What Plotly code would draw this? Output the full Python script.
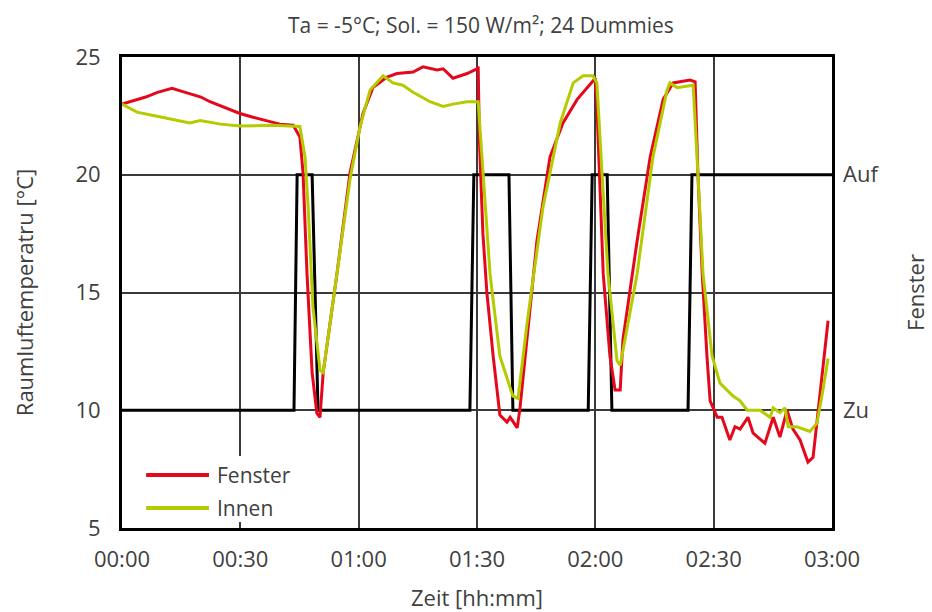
import plotly.graph_objects as go

# ---------------- data ----------------
# time in minutes since 00:00
fenster_t = [0, 3, 6, 9, 12.7, 15, 17.2, 20, 22.3, 26, 29.9, 33, 36.8, 40, 43.4, 45.1, 45.9, 46.9,
             48.2, 49.4, 50.2, 51.0, 54.5, 57.8, 61.1, 63.6, 67.2, 69.7, 73.8, 76.3, 79.9, 81.4,
             83.9, 87.5, 90.0, 90.3, 90.6, 91.5, 92.5, 94.1, 95.8, 97.6, 98.4, 100.2, 100.9, 102.7,
             105.2, 108.5, 111.8, 115.4, 119.4, 120.0, 120.4, 122.0, 123.7, 125.0, 126.3, 127.0,
             130.6, 133.9, 137.2, 139.7, 144.0, 145.3, 146.0, 147.1, 148.3, 149.1, 150.9, 152.1,
             154.1, 155.4, 156.7, 158.7, 160.0, 163.0, 165.1, 166.8, 168.6, 170.1, 171.9, 173.9,
             175.2, 177.5, 179.0]
fenster_T = [23.0, 23.15, 23.3, 23.5, 23.67, 23.55, 23.45, 23.3, 23.1, 22.85, 22.6, 22.45, 22.28,
             22.15, 22.1, 21.6, 20.07, 15.8, 11.6, 9.88, 9.7, 11.6, 15.8, 20.07, 22.6, 23.7, 24.15,
             24.3, 24.36, 24.58, 24.45, 24.5, 24.1, 24.3, 24.5, 24.6, 21.5, 17.5, 15.0, 12.3, 9.8,
             9.5, 9.7, 9.25, 10.1, 13.0, 17.2, 20.75, 22.2, 23.2, 24.0, 24.1, 22.9, 15.8, 12.3,
             10.86, 10.86, 13.0, 17.2, 20.75, 23.2, 23.9, 24.02, 23.95, 20.07, 15.8, 12.3, 10.4,
             9.7, 9.7, 8.74, 9.3, 9.2, 9.7, 9.03, 8.6, 9.7, 8.86, 10.0, 9.2, 8.74, 7.8, 8.0, 11.6,
             13.8]

innen_t = [0, 3.8, 7, 11.4, 17.2, 19.8, 25, 29.9, 38.3, 45.1, 46.4, 47.2, 48.4, 50.2, 51.0, 54.5,
           57.8, 60.3, 62.9, 66.2, 68.7, 71.2, 73.8, 78.1, 81.4, 83.9, 87.5, 90.3, 91.5, 93.3,
           95.8, 99.1, 100.4, 102.7, 106.7, 111.1, 114.4, 116.9, 119.4, 120.4, 121.7, 123.2,
           125.5, 126.3, 130.6, 134.6, 138.2, 138.9, 140.7, 144.8, 146.0, 147.3, 149.6, 151.6,
           154.9, 156.7, 158.5, 161.8, 164.3, 165.1, 166.8, 168.1, 168.9, 171.1, 174.4, 176.2,
           177.7, 179.0]
innen_T = [23.0, 22.66, 22.55, 22.4, 22.2, 22.3, 22.15, 22.07, 22.1, 22.05, 20.75, 18.6, 14.4,
           11.7, 11.6, 15.8, 19.8, 22.0, 23.6, 24.2, 23.9, 23.8, 23.5, 23.1, 22.9, 23.0, 23.1,
           23.1, 20.07, 15.8, 12.3, 10.6, 10.5, 13.7, 18.6, 22.2, 23.9, 24.2, 24.2, 23.9, 20.07,
           15.8, 12.1, 11.9, 15.8, 20.75, 23.6, 23.9, 23.7, 23.8, 20.07, 15.8, 12.3, 11.15, 10.6,
           10.4, 10.0, 10.0, 9.7, 10.1, 9.9, 10.1, 9.3, 9.3, 9.1, 9.45, 10.86, 12.2]

# window state: 0 = Zu (closed), 1 = Auf (open)
window_t = [0, 43.6, 44.4, 48.2, 49.7, 88.2, 89.2, 98.1, 99.1, 118.2, 119.2, 123.0, 124.2,
            143.5, 144.5, 180]
window_state = [0, 0, 1, 1, 0, 0, 1, 1, 0, 0, 1, 1, 0, 0, 1, 1]

x_tickvals = [0, 30, 60, 90, 120, 150, 180]
x_ticktext = ["00:00", "00:30", "01:00", "01:30", "02:00", "02:30", "03:00"]
y_tickvals = [5, 10, 15, 20, 25]
state_tickvals = [0, 1]
state_ticktext = ["Zu", "Auf"]
legend_names = ["Fenster", "Innen"]

# ---------------- style ----------------
RED = "#e5081c"
GREEN = "#b4cb00"
TXT = "#404040"
GRID = "#3a3a3a"
FONT = "Open Sans"

fig = go.Figure()

# window signal (base axis 'y', right side)
fig.add_trace(go.Scatter(x=window_t, y=window_state, mode="lines", yaxis="y",
                         line=dict(color="black", width=3), showlegend=False,
                         name="Fenster (Auf/Zu)"))
# temperatures (overlaying axis 'y2', left side)
fig.add_trace(go.Scatter(x=fenster_t, y=fenster_T, mode="lines", yaxis="y2",
                         line=dict(color=RED, width=3), name=legend_names[0], showlegend=False))
fig.add_trace(go.Scatter(x=innen_t, y=innen_T, mode="lines", yaxis="y2",
                         line=dict(color=GREEN, width=3), name=legend_names[1], showlegend=False))

# manual legend (white box hides the gridline behind it)
shapes = [dict(type="rect", xref="paper", yref="paper", x0=0.0085, x1=0.265, y0=0.013, y1=0.153,
               fillcolor="white", line=dict(width=0), layer="above")]
annotations = []
for i, (name, col) in enumerate(zip(legend_names, [RED, GREEN])):
    yy = [0.1125, 0.0425][i]
    shapes.append(dict(type="line", xref="paper", yref="paper", x0=0.034, x1=0.1225, y0=yy, y1=yy,
                       line=dict(color=col, width=4), layer="above"))
    annotations.append(dict(xref="paper", yref="paper", x=0.131, y=yy, text=name, showarrow=False,
                            xanchor="left", yanchor="middle", font=dict(family=FONT, size=21, color=TXT)))

fig.update_layout(
    width=932, height=612,
    margin=dict(l=122, r=100, t=57, b=84),
    paper_bgcolor="white", plot_bgcolor="white",
    font=dict(family=FONT, color=TXT),
    title=dict(text="Ta = -5°C; Sol. = 150 W/m²; 24 Dummies", x=0.516, y=0.958,
               xref="container", yref="container", xanchor="center", yanchor="middle",
               font=dict(family=FONT, size=21, color=TXT)),
    xaxis=dict(range=[0, 180], tickvals=x_tickvals, ticktext=x_ticktext, showgrid=True,
               gridcolor=GRID, gridwidth=1.5, showline=True, linecolor="black", linewidth=3,
               mirror=True, ticks="", ticklabelstandoff=10, zeroline=False, automargin=False,
               tickfont=dict(size=22, color=TXT),
               title=dict(text="Zeit [hh:mm]", font=dict(size=22, color=TXT), standoff=20)),
    yaxis=dict(range=[-0.5, 1.5], tickvals=state_tickvals, ticktext=state_ticktext, side="right",
               showgrid=False, zeroline=False, showline=False, ticks="", ticklabelstandoff=10,
               automargin=False, tickfont=dict(size=22, color=TXT),
               title=dict(text="Fenster", font=dict(size=22, color=TXT), standoff=30)),
    yaxis2=dict(range=[5, 25], tickvals=y_tickvals, overlaying="y", side="left", showgrid=True,
                gridcolor=GRID, gridwidth=1.5, zeroline=False, showline=True, linecolor="black",
                linewidth=3, mirror=True, ticks="", ticklabelstandoff=14, automargin=False,
                tickfont=dict(size=22, color=TXT),
                title=dict(text="Raumluftemperatru [°C]", font=dict(size=22, color=TXT), standoff=36)),
    shapes=shapes, annotations=annotations,
)

fig.write_html("out.html")
